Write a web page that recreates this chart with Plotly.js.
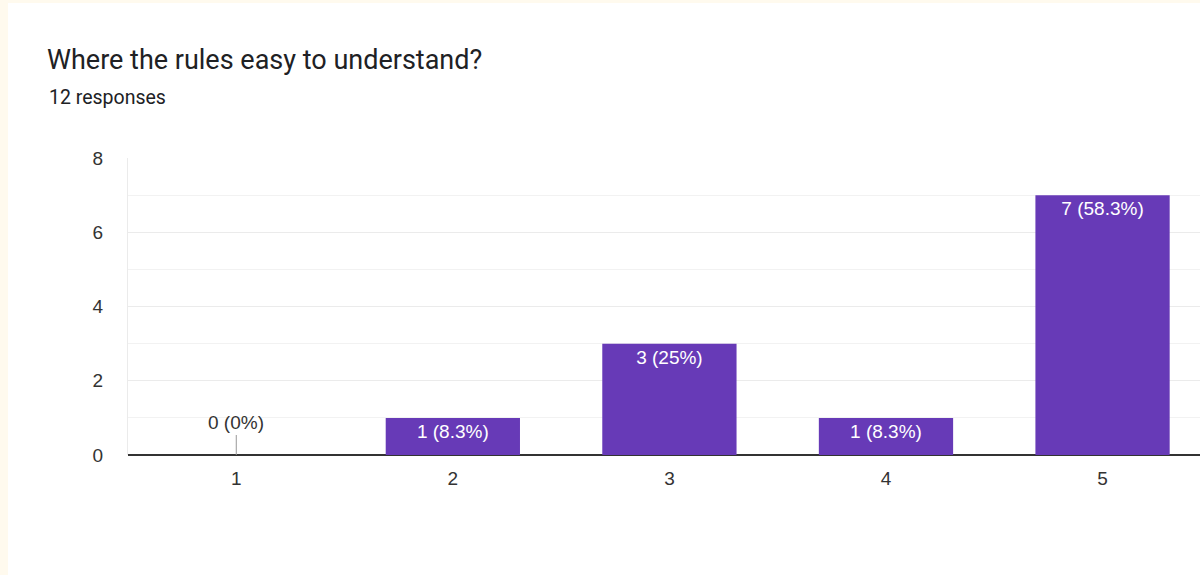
<!DOCTYPE html>
<html><head><meta charset="utf-8">
<script src="https://cdn.plot.ly/plotly-3.0.1.min.js"></script>
<style>
html,body{margin:0;padding:0;background:#fffaee;overflow:hidden;}
#wrap{position:absolute;left:8px;top:3px;width:1192px;height:572px;background:#fff;}
#chart{width:1192px;height:572px;}
</style></head><body>
<div id="wrap"><div id="chart"></div></div>
<script>
const titleText = "Where the rules easy to understand?";
const subtitleText = "12 responses";
const categories = ["1","2","3","4","5"];
const counts = [0, 1, 3, 1, 7];
const percents = ["0%","8.3%","25%","8.3%","58.3%"];

const labels = counts.map((c,i)=> c + " (" + percents[i] + ")");
const barColor = "#673ab7";

const trace = {
  type: "bar",
  x: categories,
  y: counts,
  marker: {color: barColor},
  width: 0.62,
  text: labels.map((t,i)=> counts[i] > 0 ? t : ""),
  textposition: "inside",
  insidetextanchor: "end",
  textangle: 0,
  insidetextfont: {family: "Liberation Sans, Arial, sans-serif", size: 19, color: "#ffffff"},
  hoverinfo: "none",
  cliponaxis: false
};

const annotations = [];
counts.forEach((c,i)=>{
  if (c === 0) {
    annotations.push({
      x: i, y: 0, xref: "x", yref: "y",
      text: labels[i], showarrow: true, arrowhead: 0, arrowwidth: 1,
      arrowcolor: "#999999", ax: 0, ay: -20, yanchor: "bottom",
      font: {family: "Liberation Sans, Arial, sans-serif", size: 19, color: "#333333"}
    });
  }
});
annotations.push({
  text: subtitleText, xref: "paper", yref: "paper", x: 0, y: 1,
  xanchor: "left", yanchor: "middle", xshift: -81, yshift: 61,
  showarrow: false,
  font: {family: "Roboto, sans-serif", size: 19.5, color: "#202124"}
});

const layout = {
  width: 1192, height: 572,
  margin: {l: 120, r: 0, t: 155, b: 120},
  paper_bgcolor: "#ffffff",
  plot_bgcolor: "#ffffff",
  showlegend: false,
  title: {
    text: titleText, xref: "container", yref: "container",
    x: 39/1192, xanchor: "left", y: 1 - 57/572, yanchor: "middle",
    font: {family: "Roboto, sans-serif", size: 27, color: "#202124"}
  },
  xaxis: {
    type: "category",
    range: [-0.5, 4.45],
    showgrid: false, zeroline: false, showline: false,
    ticks: "", ticklabelstandoff: 10,
    tickfont: {family: "Liberation Sans, Arial, sans-serif", size: 19, color: "#333333"},
    fixedrange: true
  },
  yaxis: {
    range: [0, 8],
    tickvals: [0, 2, 4, 6, 8],
    showgrid: true, gridcolor: "#ebebeb", gridwidth: 1,
    minor: {tickvals: [1, 3, 5, 7], showgrid: true, gridcolor: "#f2f2f2", gridwidth: 1, ticks: ""},
    zeroline: true, zerolinecolor: "#333333", zerolinewidth: 2,
    showline: true, linecolor: "#ebebeb", linewidth: 1,
    ticks: "", ticklabelstandoff: 20,
    tickfont: {family: "Liberation Sans, Arial, sans-serif", size: 19, color: "#333333"},
    fixedrange: true
  },
  annotations: annotations,
  bargap: 0.38
};

Plotly.newPlot("chart", [trace], layout, {displayModeBar: false, staticPlot: true});
</script>
</body></html>
